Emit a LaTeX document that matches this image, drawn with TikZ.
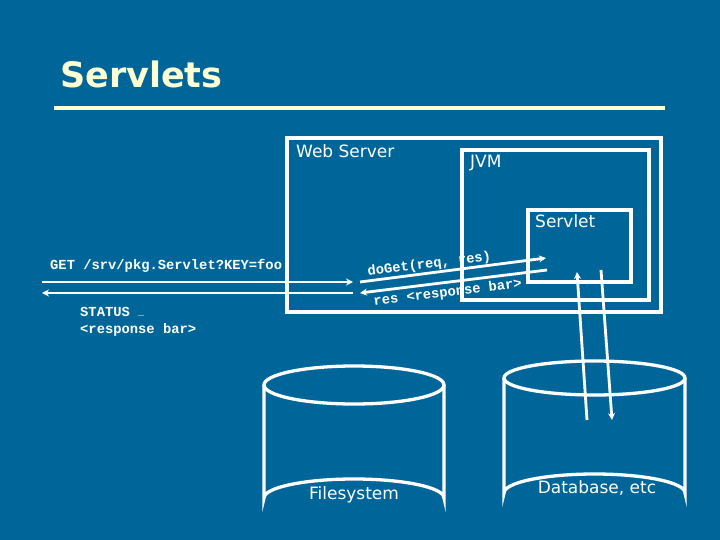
\documentclass[tikz,border=0pt]{standalone}
\usepackage{fontspec}
\setmainfont{DejaVu Sans}
\newfontfamily\codefont{Liberation Mono}
\usetikzlibrary{arrows.meta}
\definecolor{bgblue}{RGB}{0,102,153}
\definecolor{titleyellow}{RGB}{255,255,210}
\tikzset{
  frame/.style={draw=white, line width=3.3pt},
  lbl/.style={text=white, font=\fontsize{17}{20}\selectfont, inner sep=0pt, anchor=base west},
  code/.style={text=white, font=\codefont\bfseries\fontsize{13.8}{16}\selectfont, inner sep=0pt},
  conn/.style={draw=white, line width=2.8pt, -{Stealth[length=7pt,width=7pt]}},
  cyl/.style={draw=white, line width=3.3pt},
}
\begin{document}
\begin{tikzpicture}[x=1pt,y=-1pt]
\fill[bgblue] (0,0) rectangle (720,540);
\useasboundingbox (0,0) rectangle (720,540);
% title
\node[text=titleyellow, font=\bfseries\fontsize{35}{40}\selectfont, inner sep=0pt, anchor=base west] (title) at (60,88) {Servlets};
\draw[titleyellow, line width=4.5pt] (54,108) -- (665,108);
% boxes
\draw[frame] (287,138) rectangle (661,312);
\draw[frame] (462,150) rectangle (649,300);
\draw[frame] (528,210) rectangle (631,282);
\node[lbl] (ws) at (296,158) {Web Server};
\node[lbl] (jvm) at (470,168) {JVM};
\node[lbl] (sv) at (535,228) {Servlet};
% request / response on the left
\coordinate (gl) at (42,282);
\coordinate (gr) at (353,282);
\coordinate (rl) at (42,293);
\coordinate (rr) at (353,293);
\draw[conn] (gl) -- (gr);
\draw[conn] (rr) -- (rl);
\node[code, anchor=base west] (getlbl) at (50,269) {GET /srv/pkg.Servlet?KEY=foo};
\node[code, anchor=base west] (st) at (80,316) {STATUS {\mdseries\fontsize{10}{12}\selectfont …}};
\node[code, anchor=base west] (rb) at (80,333) {<response bar>};
% doGet
\coordinate (da) at (360,282);
\coordinate (db) at (546,258);
\coordinate (ra) at (547,270);
\coordinate (rb2) at (360,293);
\draw[conn] (da) -- (db);
\draw[conn] (ra) -- (rb2);
\node[code, anchor=base west, rotate=7.3] (dg) at (368,276) {doGet(req, res)};
\node[code, anchor=base west, rotate=7.3] (rs) at (374,306) {res <response bar>};
% cylinders
\draw[cyl] (264,385) -- (264,498) arc[start angle=180, end angle=360, x radius=90, y radius=19] -- (444,385);
\draw[cyl] (354,385) ellipse[x radius=90, y radius=19];
\node[lbl, anchor=base] (fs) at (354,499) {Filesystem};
\draw[cyl] (504,378) -- (504,493) arc[start angle=180, end angle=360, x radius=90.5, y radius=19] -- (685,378);
\draw[cyl] (594.5,378) ellipse[x radius=90.5, y radius=17];
\node[lbl, anchor=base] (dbl) at (597,493) {Database, etc};
% servlet <-> database
\coordinate (u1) at (587,420);
\coordinate (u2) at (577,272);
\coordinate (v1) at (601,270);
\coordinate (v2) at (612,420);
\draw[conn] (u1) -- (u2);
\draw[conn] (v1) -- (v2);
\end{tikzpicture}
\end{document}
